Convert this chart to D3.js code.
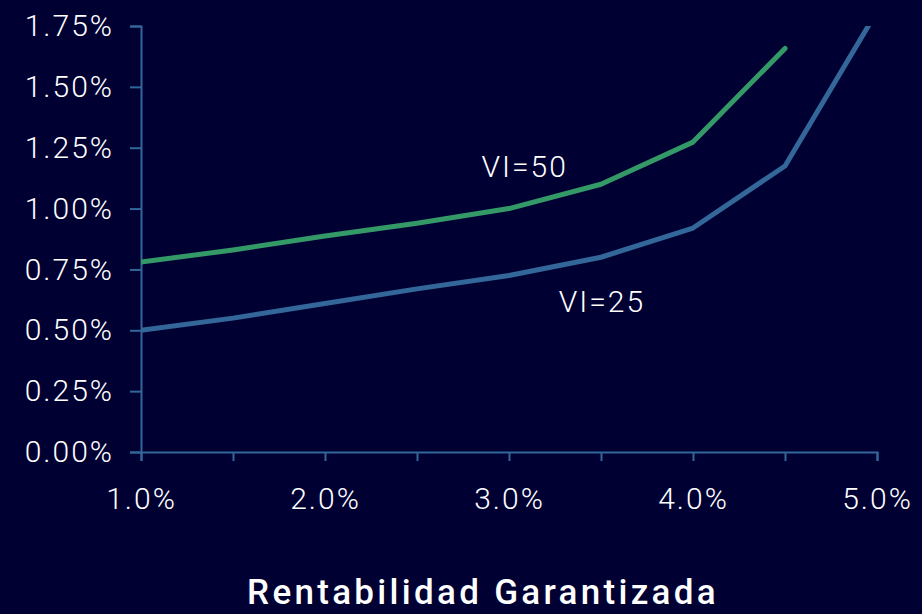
<!DOCTYPE html>
<html>
<head>
<meta charset="utf-8">
<script src="https://cdn.jsdelivr.net/npm/d3@7"></script>
<style>
  html, body { margin: 0; padding: 0; background: #000033; }
  svg { display: block; }
  text { font-family: Roboto, "Open Sans", sans-serif; fill: #ffffff; }
</style>
</head>
<body>
<div id="chart"></div>
<script>
// Rentabilidad garantizada (%) on x, cost (%) on y
const rates = [1.0, 1.5, 2.0, 2.5, 3.0, 3.5, 4.0, 4.5, 5.0];
const vi25 = [0.50, 0.55, 0.61, 0.67, 0.725, 0.80, 0.92, 1.175, 1.81];
const vi50 = [0.78, 0.83, 0.887, 0.94, 1.00, 1.10, 1.273, 1.658];
const xTickLabels = [1.0, 2.0, 3.0, 4.0, 5.0];
const yTicks = [0, 0.25, 0.5, 0.75, 1.0, 1.25, 1.5, 1.75];

const width = 922, height = 614;
const margin = {top: 26, right: 45, bottom: 162, left: 141};
const axisColor = '#336699';

const svg = d3.select('#chart')
  .append('svg')
  .attr('width', width)
  .attr('height', height);

svg.append('rect').attr('width', width).attr('height', height).attr('fill', '#000033');

const x = d3.scaleLinear().domain([1, 5]).range([margin.left, width - margin.right]);
const y = d3.scaleLinear().domain([0, 1.75]).range([height - margin.bottom, margin.top]);

// clip so the steep VI=25 end stops at the top of the plot
svg.append('clipPath').attr('id', 'plot')
  .append('rect')
  .attr('x', margin.left)
  .attr('y', margin.top)
  .attr('width', width - margin.left - margin.right)
  .attr('height', height - margin.top - margin.bottom);

// y axis
const yAxis = svg.append('g')
  .attr('transform', `translate(${margin.left},0)`)
  .call(d3.axisLeft(y).tickValues(yTicks).tickSize(11).tickPadding(16)
    .tickFormat(d => d.toFixed(2) + '%'));

// x axis: ticks every 0.5, labels every 1.0
const xAxis = svg.append('g')
  .attr('transform', `translate(0,${height - margin.bottom})`)
  .call(d3.axisBottom(x).tickValues(rates).tickSize(9).tickPadding(27)
    .tickFormat(d => xTickLabels.includes(d) ? d.toFixed(1) + '%' : ''));

[yAxis, xAxis].forEach(a => {
  a.select('.domain').attr('stroke', axisColor).attr('stroke-width', 2);
  a.selectAll('.tick line').attr('stroke', axisColor).attr('stroke-width', 2);
  a.selectAll('.tick text')
    .attr('fill', '#ffffff')
    .style('font-size', '30px')
    .style('font-weight', 300)
    .style('letter-spacing', '2px')
    .style('font-family', 'Roboto, sans-serif');
});

const line = d3.line()
  .x((d, i) => x(rates[i]))
  .y(d => y(d));

const plot = svg.append('g').attr('clip-path', 'url(#plot)');

plot.append('path')
  .datum(vi25)
  .attr('d', line)
  .attr('fill', 'none')
  .attr('stroke', '#336699')
  .attr('stroke-width', 5)
  .attr('stroke-linejoin', 'round');

plot.append('path')
  .datum(vi50)
  .attr('d', line)
  .attr('fill', 'none')
  .attr('stroke', '#339966')
  .attr('stroke-width', 5)
  .attr('stroke-linejoin', 'round')
  .attr('stroke-linecap', 'round');

// series labels
svg.append('text')
  .attr('x', x(2.85)).attr('y', y(1.13))
  .style('font-size', '30px').style('font-weight', 300)
  .style('letter-spacing', '2px')
  .text('VI=50');

svg.append('text')
  .attr('x', x(3.27)).attr('y', y(0.575))
  .style('font-size', '30px').style('font-weight', 300)
  .style('letter-spacing', '2px')
  .text('VI=25');

// axis title
svg.append('text')
  .attr('x', 483).attr('y', 604)
  .attr('text-anchor', 'middle')
  .style('font-size', '35px')
  .style('font-weight', 500)
  .style('letter-spacing', '3.3px')
  .text('Rentabilidad Garantizada');
</script>
</body>
</html>
